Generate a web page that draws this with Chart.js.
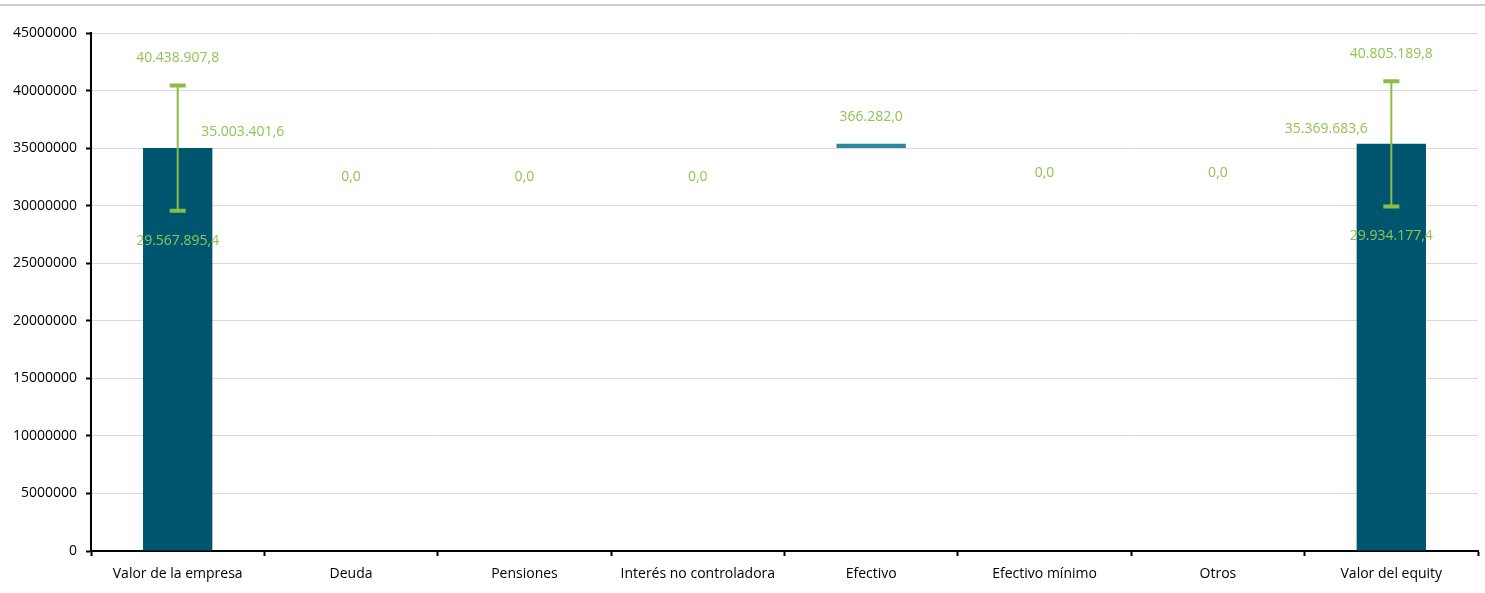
<!DOCTYPE html>
<html>
<head>
<meta charset="utf-8">
<script src="https://cdn.jsdelivr.net/npm/chart.js@4.4.1/dist/chart.umd.min.js"></script>
<style>
  html, body { margin: 0; padding: 0; background: #fff; }
  #wrap { position: relative; width: 1485px; height: 593px; }
  #topline { position: absolute; left: 0; top: 4px; width: 1485px; height: 2px; background: #cfcfcf; }
  canvas { position: absolute; left: 0; top: 0; }
</style>
</head>
<body>
<div id="wrap">
  <div id="topline"></div>
  <canvas id="chart" width="1485" height="593"></canvas>
</div>
<script>
// categorías del puente valor empresa -> valor del equity
const categorias = ['Valor de la empresa', 'Deuda', 'Pensiones', 'Interés no controladora',
  'Efectivo', 'Efectivo mínimo', 'Otros', 'Valor del equity'];
const valores = [35003401.6, 0, 0, 0, 366282.0, 0, 0, 35369683.6];
const esTotal = [true, false, false, false, false, false, false, true];
const errorBajo = [29567895.4, null, null, null, null, null, null, 29934177.4];
const errorAlto = [40438907.8, null, null, null, null, null, null, 40805189.8];
const ticksY = [0, 5000000, 10000000, 15000000, 20000000, 25000000, 30000000, 35000000, 40000000, 45000000];

// posicion de la etiqueta de cada barra
const posEtiqueta = ['right', 'below', 'below', 'below', 'above', 'below', 'below', 'left'];

const verde = '#92c353';
const verdeError = '#8cbb47';
const fuente = "'Open Sans', sans-serif";

// barras flotantes (cascada)
let acumulado = 0;
const barras = valores.map((v, i) => {
  if (esTotal[i]) { acumulado = v; return [0, v]; }
  const ini = acumulado;
  acumulado += v;
  return [ini, acumulado];
});

function formato(v) {
  const partes = v.toFixed(1).split('.');
  const entero = partes[0].replace(/\B(?=(\d{3})+(?!\d))/g, '.');
  return entero + ',' + partes[1];
}

const etiquetas = {
  id: 'etiquetas',
  afterDatasetsDraw(chart) {
    const ctx = chart.ctx;
    const y = chart.scales.y;
    const meta = chart.getDatasetMeta(0);
    ctx.save();
    ctx.font = '14px ' + fuente;
    ctx.textAlign = 'center';
    ctx.textBaseline = 'middle';

    meta.data.forEach((el, i) => {
      const x = el.x;
      // barras de error
      if (errorBajo[i] != null) {
        const yb = y.getPixelForValue(errorBajo[i]);
        const ya = y.getPixelForValue(errorAlto[i]);
        ctx.strokeStyle = verdeError;
        ctx.lineWidth = 2;
        ctx.beginPath();
        ctx.moveTo(x, ya); ctx.lineTo(x, yb);
        ctx.stroke();
        ctx.lineWidth = 4;
        ctx.beginPath();
        ctx.moveTo(x - 8, ya); ctx.lineTo(x + 8, ya);
        ctx.moveTo(x - 8, yb); ctx.lineTo(x + 8, yb);
        ctx.stroke();
        ctx.fillStyle = verde;
        ctx.fillText(formato(errorAlto[i]), x, ya - 27);
        ctx.fillText(formato(errorBajo[i]), x, yb + 30);
      }
      // etiqueta del valor
      const top = y.getPixelForValue(barras[i][1]);
      let lx = x, ly = top;
      if (posEtiqueta[i] === 'right') { lx = x + 65; ly = top - 16; }
      else if (posEtiqueta[i] === 'left') { lx = x - 65; ly = top - 15; }
      else if (posEtiqueta[i] === 'above') { ly = top - 27; }
      else { ly = top + 29; }
      ctx.fillStyle = verde;
      ctx.fillText(formato(valores[i]), lx, ly);
    });
    ctx.restore();
  }
};

new Chart(document.getElementById('chart'), {
  type: 'bar',
  data: {
    labels: categorias,
    datasets: [{
      data: barras,
      backgroundColor: esTotal.map(t => t ? '#00566f' : '#31859c'),
      borderWidth: 0,
      categoryPercentage: 1,
      barPercentage: 0.4
    }]
  },
  options: {
    responsive: false,
    animation: false,
    layout: { padding: { top: 33, right: 7, left: 0, bottom: 0 } },
    plugins: { legend: { display: false }, tooltip: { enabled: false } },
    scales: {
      x: {
        grid: { drawOnChartArea: false, tickColor: '#000', tickLength: 5, tickWidth: 2 },
        border: { color: '#000', width: 2 },
        ticks: { color: '#000', font: { family: fuente, size: 14 }, padding: 10, maxRotation: 0 },
        afterFit(s) { s.height = 42; }
      },
      y: {
        min: 0,
        max: 45000000,
        afterBuildTicks(s) { s.ticks = ticksY.map(v => ({ value: v })); },
        grid: { color: '#d9d9d9', lineWidth: 1, tickColor: '#000', tickLength: 5, tickWidth: 2 },
        border: { color: '#000', width: 2 },
        ticks: { color: '#000', font: { family: fuente, size: 14 }, padding: 9,
          callback: v => String(v) },
        afterFit(s) { s.width = 91; }
      }
    }
  },
  plugins: [etiquetas]
});
</script>
</body>
</html>
